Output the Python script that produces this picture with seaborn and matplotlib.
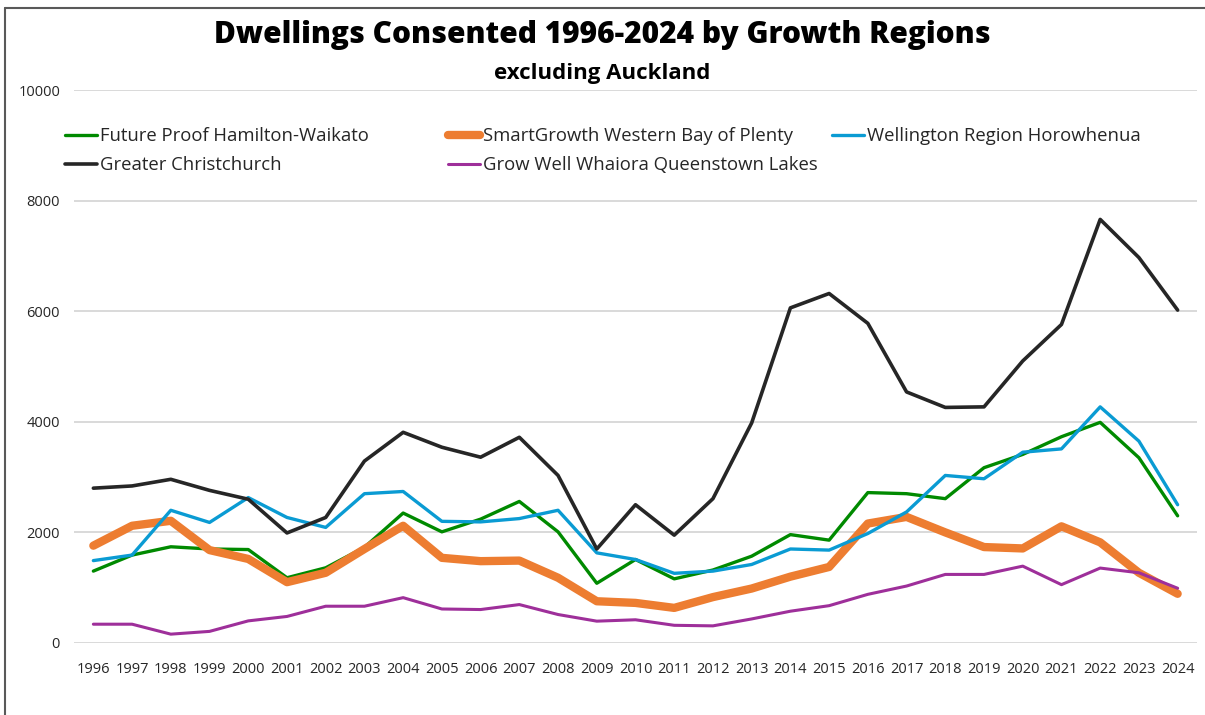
import matplotlib
matplotlib.use("Agg")
import matplotlib.pyplot as plt
import seaborn as sns
import pandas as pd
from matplotlib.lines import Line2D

years = list(range(1996, 2025))
year_labels = [str(y) for y in years]

future_proof = [1300, 1590, 1740, 1700, 1690, 1180, 1360, 1730, 2350, 2010, 2240, 2560, 2010,
                1080, 1510, 1160, 1320, 1570, 1960, 1860, 2720, 2700, 2610, 3170, 3410, 3730,
                3990, 3350, 2300]
smartgrowth = [1760, 2120, 2210, 1680, 1520, 1100, 1270, 1700, 2120, 1540, 1480, 1490, 1180,
               755, 725, 635, 830, 985, 1200, 1375, 2160, 2280, 2000, 1735, 1710, 2110,
               1820, 1270, 890]
wellington = [1490, 1590, 2400, 2180, 2630, 2270, 2090, 2700, 2740, 2200, 2190, 2250, 2400,
              1630, 1510, 1260, 1300, 1420, 1700, 1680, 1980, 2370, 3030, 2970, 3450, 3510,
              4270, 3650, 2500]
christchurch = [2800, 2840, 2960, 2760, 2600, 1990, 2270, 3290, 3810, 3540, 3360, 3720, 3030,
                1700, 2500, 1950, 2610, 3980, 6060, 6320, 5780, 4540, 4260, 4270, 5100, 5760,
                7660, 6970, 6020]
queenstown = [340, 340, 160, 210, 400, 480, 665, 665, 820, 615, 605, 695, 515,
              395, 420, 320, 310, 435, 575, 675, 880, 1030, 1240, 1240, 1390, 1055,
              1355, 1270, 990]

series_names = ["Future Proof Hamilton-Waikato", "SmartGrowth Western Bay of Plenty",
                "Wellington Region Horowhenua", "Greater Christchurch",
                "Grow Well Whaiora Queenstown Lakes"]
series_values = [future_proof, smartgrowth, wellington, christchurch, queenstown]
colors = ["#008A00", "#ED7D31", "#0A9BD3", "#262626", "#9E2F9A"]
widths = [2.4, 6.0, 2.4, 2.6, 2.2]

sns.set_theme(style="white")
plt.rcParams['font.family'] = ['Open Sans', 'DejaVu Sans']

fig = plt.figure(figsize=(12.05, 7.15), dpi=100)
ax = fig.add_axes([74/1205, 1-643/715, (1197-74)/1205, (643-90)/715])

x_idx = list(range(len(years)))
handles = {}
for name, vals, c, w in zip(series_names, series_values, colors, widths):
    df = pd.DataFrame({"x": x_idx, "y": vals})
    sns.lineplot(data=df, x="x", y="y", ax=ax, color=c, linewidth=w,
                 solid_capstyle="round", solid_joinstyle="round", legend=False)
    handles[name] = Line2D([0], [0], color=c, linewidth=w, solid_capstyle="round")

ax.set_xlim(-0.5, len(years) - 0.5)
ax.set_ylim(0, 10000)
ax.set_yticks([0, 2000, 4000, 6000, 8000, 10000])
ax.set_yticklabels(["0", "2000", "4000", "6000", "8000", "10000"])
ax.set_xticks(x_idx)
ax.set_xticklabels(year_labels)
ax.tick_params(axis="both", length=0, labelsize=10.5, colors="#262626")
ax.tick_params(axis="x", pad=14)
ax.tick_params(axis="y", pad=10)
ax.yaxis.grid(True, color="#D9D9D9", linewidth=1.4)
ax.set_axisbelow(True)
for s in ax.spines.values():
    s.set_visible(False)
ax.set_xlabel("")
ax.set_ylabel("")

# legend: three fixed-width columns as in the reference
legend_cols = [
    ([series_names[0], series_names[3]], 65),
    ([series_names[1], series_names[4]], 448),
    ([series_names[2]], 832),
]
for names, xpx in legend_cols:
    leg = fig.legend([handles[n] for n in names], names, loc="upper left",
                     bbox_to_anchor=(xpx/1205, 1-127/715), frameon=False,
                     fontsize=13.3, handlelength=1.75, handletextpad=0.15,
                     labelspacing=0.6, borderpad=0, borderaxespad=0)
    for t in leg.get_texts():
        t.set_color("#262626")

fig.text(0.5, 1-35/715, "Dwellings Consented 1996-2024 by Growth Regions",
         ha="center", va="center", fontsize=21.5, fontweight="heavy", color="black")
fig.text(0.5, 1-74/715, "excluding Auckland", ha="center", va="center",
         fontsize=16, fontweight="bold", color="black")

# outer frame (left and top edges)
fig.add_artist(Line2D([5/1205, 5/1205], [0, 1-8/715], transform=fig.transFigure,
                      color="#595959", linewidth=1.5))
fig.add_artist(Line2D([5/1205, 1], [1-8/715, 1-8/715], transform=fig.transFigure,
                      color="#595959", linewidth=1.5))

fig.savefig("out.png", dpi=100)
